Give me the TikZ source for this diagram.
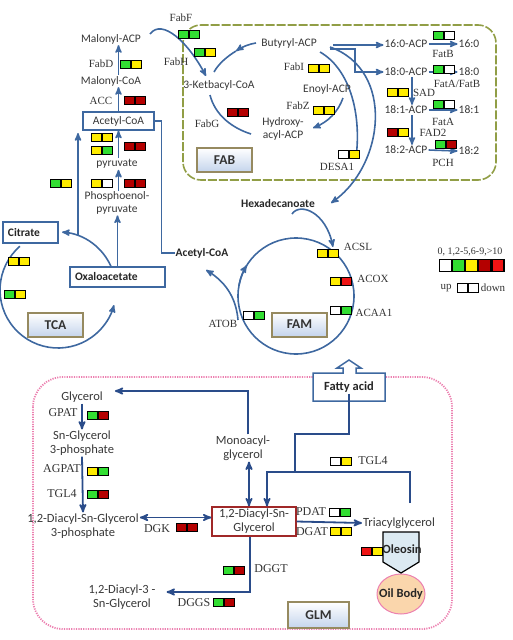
\documentclass[tikz,border=0pt]{standalone}
\usepackage{fontspec}
\setmainfont{Liberation Serif}
\newfontfamily\calib{Carlito}
\usepackage{tikz}
\usetikzlibrary{arrows}
\definecolor{pblue}{RGB}{62,104,160}
\definecolor{dblue}{RGB}{42,76,138}
\definecolor{fabolive}{RGB}{145,158,70}
\definecolor{glmpink}{RGB}{236,128,176}
\definecolor{cgreen}{RGB}{50,222,50}
\definecolor{cyellow}{RGB}{255,236,0}
\definecolor{cdred}{RGB}{180,0,0}
\definecolor{cred}{RGB}{238,20,20}
\definecolor{tagedge}{RGB}{150,138,96}
\definecolor{tagblue}{RGB}{196,212,236}
\definecolor{oleblue}{RGB}{220,234,242}
\definecolor{peach}{RGB}{250,214,172}
\definecolor{dagred}{RGB}{160,40,40}

% two-cell expression box: name, x, y (top left), up colour, down colour
\newcommand{\pair}[5]{%
  \node[cell,fill=#4,anchor=north west] (#1a) at (#2,#3) {};
  \node[cell,fill=#5,anchor=west] (#1b) at (#1a.east) {};}

\begin{document}
\begin{tikzpicture}[x=1pt,y=-1pt,>=stealth']
  \tikzstyle{cell}=[draw=black,line width=1.1pt,minimum width=10pt,minimum height=8pt,inner sep=0pt]
  \tikzstyle{lcell}=[cell,minimum width=12pt,minimum height=12pt]
  \tikzstyle{met}=[font=\calib\fontsize{11.5}{12.5}\selectfont,text=black!78,inner sep=1pt,align=center]
  \tikzstyle{bmet}=[font=\calib\bfseries\fontsize{11.5}{12.5}\selectfont,text=black!85,inner sep=1pt]
  \tikzstyle{gmet}=[font=\calib\fontsize{12.5}{14}\selectfont,text=black!78,inner sep=1pt,align=center]
  \tikzstyle{gbmet}=[font=\calib\bfseries\fontsize{12.5}{14}\selectfont,text=black!85,inner sep=1pt]
  \tikzstyle{enz}=[font=\fontsize{11}{12}\selectfont,text=black!80,inner sep=0pt]
  \tikzstyle{genz}=[font=\fontsize{12}{13}\selectfont,text=black!80,inner sep=0pt]
  \tikzstyle{mbox}=[draw=pblue,line width=1.2pt,fill=white,inner sep=0pt]
  \tikzstyle{tag}=[draw=tagedge,line width=2pt,top color=white,bottom color=tagblue,
    font=\calib\bfseries\fontsize{13.5}{14}\selectfont,text=black!80,minimum width=55pt,minimum height=24pt]
  \tikzstyle{flow}=[draw=pblue,line width=1.6pt,->]
  \tikzstyle{ring}=[draw=pblue,line width=1.6pt]
  \tikzstyle{glm}=[draw=dblue,line width=1.8pt]

  \useasboundingbox (0,0) rectangle (513,640);

  % frames
  \draw[fabolive,line width=1.6pt,rounded corners=18pt,dash pattern=on 9pt off 2pt] (183,25) rectangle (496,180);
  \draw[glmpink,line width=1.8pt,rounded corners=30pt,dash pattern=on 1.2pt off 1.2pt] (33,377) rectangle (452,629);

  % FAB cycle
  \coordinate (k1) at (150,34);
  \coordinate (k2) at (206,76);
  \draw[flow] (k1) .. controls (162,18) and (188,42) .. (k2);
  \coordinate (g1) at (210,95);
  \coordinate (g2) at (251,134);
  \draw[ring] (g1) .. controls (215,115) and (232,128) .. (g2);
  \coordinate (z1) at (343,98);
  \coordinate (z2) at (313,128);
  \draw[flow] (z1) .. controls (338,112) and (328,122) .. (z2);
  \coordinate (b1) at (256,43);
  \coordinate (b2) at (236,51);
  \coordinate (b3) at (214,72);
  \draw[flow] (b1) .. controls (249,44) and (242,47) .. (b2);
  \draw[ring] (b2) .. controls (228,56) and (219,63) .. (b3);
  \coordinate (o1) at (320,52);
  \coordinate (o2) at (356,158);
  \draw[ring] (o1) .. controls (348,68) and (362,110) .. (o2);
  \coordinate (h1) at (330,47);
  \coordinate (h2) at (331,203);
  \draw[flow] (h1) .. controls (395,70) and (385,165) .. (h2);

  % left chain
  \node[met] (malacp) at (111,39) {Malonyl-ACP};
  \node[enz] (fabd) at (101,64) {FabD};
  \pair{fabdp}{120}{60}{cgreen}{cyellow}
  \node[met] (malcoa) at (111,81) {Malonyl-CoA};
  \node[enz] (acc) at (101,101) {ACC};
  \pair{accp}{124}{96}{cdred}{cdred}
  \node[met] (pyr) at (117,164) {pyruvate};
  \node[met] (pep) at (117,203) {Phosphoenol-\\pyruvate};
  \node[bmet] (acoab) at (202,253) {Acetyl-CoA};

  % TCA
  \coordinate (tcac) at (58,290);
  \draw[flow] (tcac) ++(229:58) arc[start angle=229,end angle=15,radius=58];
  \draw[flow] (tcac) ++(338:58) arc[start angle=338,end angle=274,radius=58];
  \coordinate (t1) at (78,235);
  \coordinate (t2) at (78,133);
  \draw[flow] (t1) -- (t2);

  \node[mbox,met,minimum width=71pt,minimum height=18pt] (acoa) at (118.5,121) {Acetyl-CoA};
  \node[mbox,bmet,text width=45pt,inner xsep=5pt,minimum height=21pt,align=left] (cit) at (30.5,232.5) {Citrate};
  \node[mbox,bmet,text width=85pt,inner xsep=5pt,minimum height=20pt,align=left] (oxa) at (117.5,277) {Oxaloacetate};

  \draw[flow] (acoa.north) -- (acoa.north |- malcoa.south);
  \draw[flow] (acoa.north |- malcoa.north) -- (acoa.north |- malacp.south);
  \draw[flow] (acoa.south |- pyr.north) -- (acoa.south);
  \draw[flow] (acoa.south |- pep.north) -- (acoa.south |- pyr.south);
  \draw[flow] (oxa.north) -- (oxa.north |- pep.south);
  \draw[pblue,line width=1.2pt] (acoa.east) -- ++(7,0) |- (acoab.west);

  \pair{pyra}{91}{133}{cyellow}{cyellow}
  \pair{pyrb}{91}{146}{cyellow}{cgreen}
  \pair{pyrc}{124}{142}{cdred}{cdred}
  \pair{pepa}{91}{179}{cyellow}{white}
  \pair{pepb}{124}{179}{cdred}{cdred}
  \pair{tcaa}{50}{179}{cgreen}{cyellow}
  \pair{tcab}{8}{257}{cyellow}{cyellow}
  \pair{tcad}{4}{290}{cgreen}{cyellow}

  % FAB labels
  \node[enz] (fabf) at (181,18) {FabF};
  \pair{fabfp}{178}{30}{cgreen}{cgreen}
  \pair{fabhp}{194}{48}{cgreen}{cyellow}
  \node[enz] (fabh) at (176,62) {FabH};
  \node[met] (ket) at (219,85) {3-Ketbacyl-CoA};
  \node[enz] (fabg) at (207,124) {FabG};
  \pair{fabgp}{227}{108}{cdred}{cdred}
  \node[met] (but) at (289,43) {Butyryl-ACP};
  \node[enz] (fabi) at (294,67) {FabI};
  \pair{fabip}{308}{64}{cyellow}{cyellow}
  \node[met] (eno) at (327,89) {Enoyl-ACP};
  \node[enz] (fabz) at (298,106) {FabZ};
  \pair{fabzp}{313}{106}{cyellow}{cyellow}
  \node[met] (hyd) at (283,129) {Hydroxy-\\acyl-ACP};
  \pair{desp}{338}{150}{white}{cyellow}
  \node[enz] (desa) at (337,167) {DESA1};
  \node[tag] (fab) at (224.5,160) {FAB};

  % fatty acyl-ACP branch
  \node[met] (p160) at (406,44) {16:0-ACP};
  \node[met] (f160) at (469,44) {16:0};
  \node[met] (p180) at (406,72) {18:0-ACP};
  \node[met] (f180) at (469,72) {18:0};
  \node[met] (p181) at (406,110) {18:1-ACP};
  \node[met] (f181) at (469,110) {18:1};
  \node[met] (p182) at (406,150) {18:2-ACP};
  \node[met] (f182) at (469,151) {18:2};
  \coordinate (bj1) at (333,45);
  \coordinate (bj2) at (330,49);
  \draw[flow] (bj1) -- (bj1 -| p160.west);
  \draw[flow] (bj2) -- ++(25,0) |- (p180.west);
  \draw[flow] (p160.east) -- (f160.west);
  \draw[flow] (p180.east) -- (f180.west);
  \draw[flow] (p181.east) -- (f181.west);
  \draw[flow] (p182.east) -- (f182.west);
  \draw[flow] ([xshift=6pt]p180.south) -- ([xshift=6pt]p181.north);
  \draw[flow] ([xshift=6pt]p181.south) -- ([xshift=6pt]p182.north);
  \pair{fatbp}{433}{31}{cgreen}{white}
  \node[enz] (fatb) at (443,54) {FatB};
  \pair{fatabp}{433}{65}{cgreen}{white}
  \node[enz] (fatab) at (457,84) {FatA/FatB};
  \pair{sadp}{387}{88}{cyellow}{cyellow}
  \node[enz] (sad) at (424,93) {SAD};
  \pair{fatap}{433}{100}{cgreen}{white}
  \node[enz] (fata) at (443,122) {FatA};
  \pair{fadp}{387}{128}{cdred}{cyellow}
  \node[enz] (fad) at (433,133) {FAD2};
  \pair{pchp}{435}{140}{cgreen}{cdred}
  \node[enz] (pch) at (443,163) {PCH};

  % FAM
  \coordinate (famc) at (296,296);
  \draw[ring] (famc) circle[radius=58];
  \draw[flow] (famc) ++(190:58) arc[start angle=190,end angle=212,radius=58];
  \node[bmet] (hex) at (278,204) {Hexadecanoate};
  \coordinate (x1) at (292,214);
  \coordinate (x2) at (333,247);
  \draw[flow] (x1) .. controls (300,202) and (326,212) .. (x2);
  \coordinate (a1) at (238,320);
  \coordinate (a2) at (206,270);
  \draw[flow] (a1) .. controls (236,296) and (224,281) .. (a2);
  \node[enz] (acsl) at (358,247) {ACSL};
  \pair{acslp}{317}{249}{cyellow}{cyellow}
  \node[enz] (acox) at (373,279) {ACOX};
  \pair{acoxp}{330}{277}{cyellow}{cred}
  \node[enz] (acaa) at (374,313) {ACAA1};
  \pair{acaap}{330}{306}{white}{cgreen}
  \node[enz] (atob) at (223,324) {ATOB};
  \pair{atobp}{243}{311}{white}{cgreen}
  \node[tag] (fam) at (299.5,324.5) {FAM};
  \node[tag] (tca) at (55.5,325) {TCA};

  % legend
  \node[enz,font=\fontsize{10}{11}\selectfont] (leg) at (470,252) {0, 1,2-5,6-9,>10};
  \node[lcell,fill=white,anchor=north west] (l1) at (439,259) {};
  \node[lcell,fill=cgreen,anchor=west] (l2) at (l1.east) {};
  \node[lcell,fill=cyellow,anchor=west] (l3) at (l2.east) {};
  \node[lcell,fill=cdred,anchor=west] (l4) at (l3.east) {};
  \node[lcell,fill=cred,anchor=west] (l5) at (l4.east) {};
  \node[enz] (up) at (446,288) {up};
  \node[cell,fill=white,minimum height=9pt,anchor=north west] (ud1) at (457,283) {};
  \node[cell,fill=white,minimum height=9pt,anchor=west] (ud2) at (ud1.east) {};
  \node[enz] (down) at (493,288) {down};

  % GLM
  \draw[pblue,line width=1.5pt,fill=white] (313,373) -- (343,373) -- (343,368) -- (337,368) -- (349,360)
    -- (361,368) -- (356,368) -- (356,373) -- (385,373) -- (385,401) -- (313,401) -- cycle;
  \node[gbmet] (fa) at (349,387) {Fatty acid};
  \node[gmet] (gly) at (82,397) {Glycerol};
  \node[genz] (gpat) at (63,413) {GPAT};
  \pair{gpatp}{87}{411}{cgreen}{cdred}
  \node[gmet] (g3p) at (82,443) {Sn-Glycerol\\3-phosphate};
  \node[genz] (agpat) at (62,469) {AGPAT};
  \pair{agpatp}{87}{467}{cyellow}{cgreen}
  \node[genz] (tgla) at (62,494) {TGL4};
  \pair{tglap}{87}{490}{cgreen}{cdred}
  \node[gmet] (dagp) at (83,526) {1,2-Diacyl-Sn-Glycerol\\3-phosphate};
  \node[genz] (dgk) at (157,529) {DGK};
  \pair{dgkp}{176}{523}{cdred}{cdred}
  \node[gmet,draw=dagred,line width=1.3pt,fill=white,minimum width=84pt,minimum height=29pt] (dag) at (254,521.5) {1,2-Diacyl-Sn-\\Glycerol};
  \node[gmet] (mag) at (243,448) {Monoacyl-\\glycerol};
  \node[gmet] (dgd) at (122,597) {1,2-Diacyl-3 -\\Sn-Glycerol};
  \node[gmet] (tag) at (399,523) {Triacylglycerol};

  \draw[glm,->] (gly.south) -- (g3p.north);
  \draw[glm,->] (g3p.south) -- (dagp.north);
  \draw[glm,<->] ([yshift=4pt]dag.west) -- ([yshift=4pt]dag.west -| dagp.east);
  \draw[glm,<->] ([xshift=6pt]mag.south) -- ([xshift=6pt]mag.south |- dag.north);
  \coordinate (gc) at (248,391);
  \draw[glm,->] (mag.north -| gc) -- (gc) -- ([xshift=11pt]gc -| gly.east);
  \coordinate (fc) at (295,434);
  \coordinate (tr) at (410,472);
  \coordinate (tl) at (267,472);
  \coordinate (trb) at (410,503);
  \draw[glm] (fa.south) |- (fc) -- (fc |- tr);
  \draw[glm,->] (trb) -- (tr) -- (tl) -- (tl |- dag.north);
  \draw[glm,->] (dag.east) -- (tag.west);
  \coordinate (dc) at (250,592);
  \draw[glm,->] (dc |- dag.south) -- (dc) -- ([xshift=10pt]dc -| dgd.east);

  \pair{tglbp}{330}{457}{white}{cyellow}
  \node[genz] (tglb) at (373,461) {TGL4};
  \node[genz] (pdat) at (311,512) {PDAT};
  \pair{pdatp}{329}{508}{white}{cgreen}
  \node[genz] (dgat) at (312,532) {DGAT};
  \pair{dgatp}{330}{527}{cyellow}{cyellow}
  \pair{dggtp}{223}{566}{cgreen}{cdred}
  \node[genz] (dggt) at (271,569) {DGGT};
  \node[genz] (dggs) at (194,603) {DGGS};
  \pair{dggsp}{213}{598}{cgreen}{cdred}

  % oil body
  \draw[draw=glmpink,line width=1pt,fill=peach] (401,594) ellipse[x radius=24,y radius=20];
  \draw[line width=1.2pt,fill=oleblue] (383,532) -- (419,532) -- (419,562) -- (401,573) -- (383,562) -- cycle;
  \node[gbmet] (ole) at (402,549) {Oleosin};
  \pair{olep}{361}{547}{cred}{cyellow}
  \node[gbmet] (oil) at (401,594) {Oil Body};
  \node[tag,minimum width=61pt,minimum height=26pt] (glmtag) at (318.5,615) {GLM};
\end{tikzpicture}
\end{document}
